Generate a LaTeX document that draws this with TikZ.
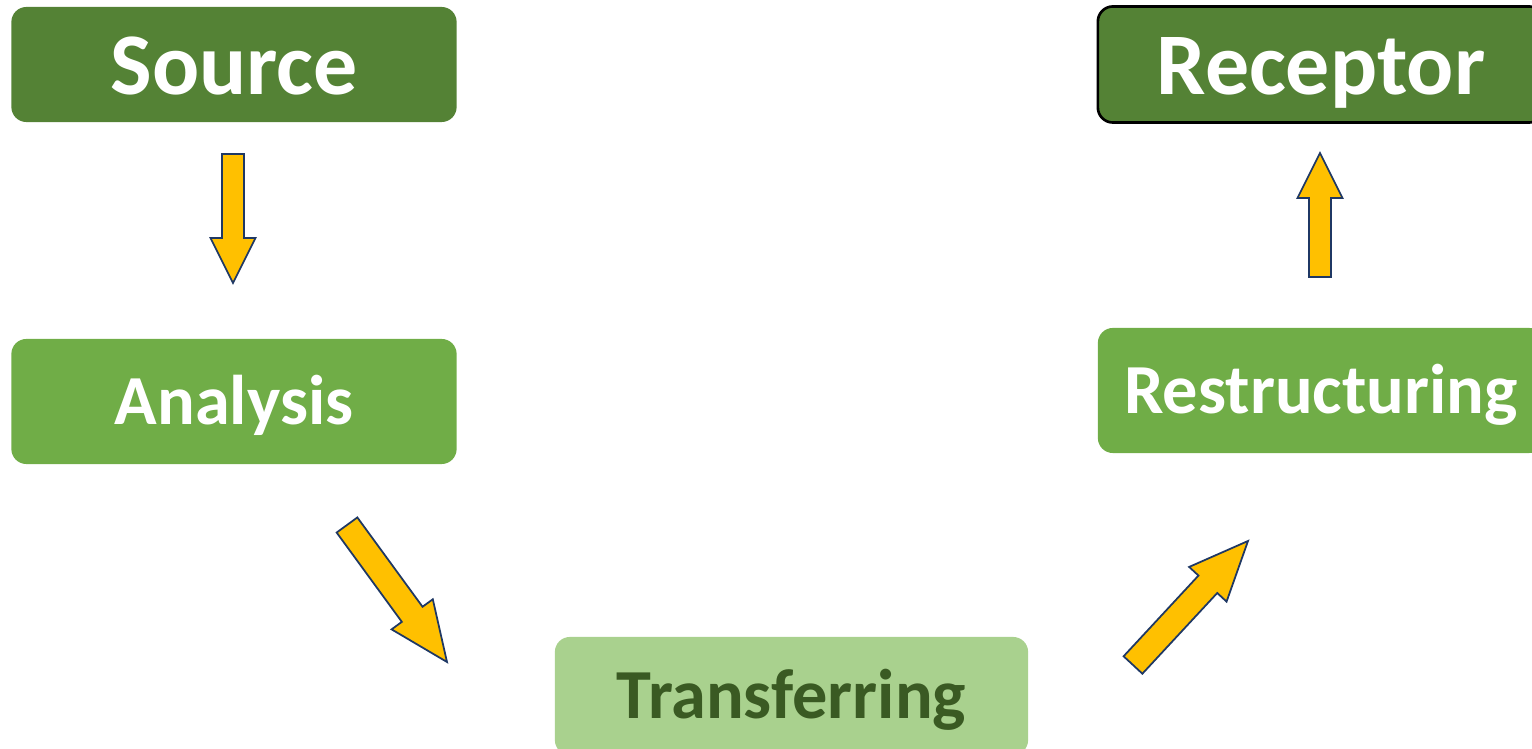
\documentclass[tikz,border=0pt]{standalone}
\usepackage{fontspec}
\setmainfont{Carlito}
\usetikzlibrary{calc}

\definecolor{darkgreen}{HTML}{548235}
\definecolor{midgreen}{HTML}{70AD47}
\definecolor{lightgreen}{HTML}{A9D18E}
\definecolor{textgreen}{HTML}{3A5A23}
\definecolor{arrowyellow}{HTML}{FFC000}
\definecolor{arrowline}{HTML}{1F3864}

\tikzset{
    box/.style={rounded corners=0.15cm, inner sep=0pt, text=white,
        font=\bfseries\fontsize{20}{24}\selectfont, text height=12.9pt, text depth=0pt},
    bigbox/.style={box, font=\bfseries\fontsize{25}{30}\selectfont, text height=17.2pt},
    blockarrow/.style={fill=arrowyellow, draw=arrowline, line width=0.5pt, line join=miter}
}

% tail, tip, half shaft, half head, head length
\newcommand{\blockarrow}[5]{%
    \coordinate (hb) at ($(#2)!#5!(#1)$);
    \filldraw[blockarrow] ($(#1)!#3!90:(#2)$) -- ($(hb)!#3!90:(#2)$) -- ($(hb)!#4!90:(#2)$)
        -- (#2) -- ($(hb)!#4!-90:(#2)$) -- ($(hb)!#3!-90:(#2)$) -- ($(#1)!#3!-90:(#2)$) -- cycle;
}

\begin{document}
\begin{tikzpicture}[x=0.01cm, y=-0.01cm]
    \useasboundingbox (0,0) rectangle (1532,749);
    \clip (0,0) rectangle (1532,749);

    % boxes
    \node[bigbox, fill=darkgreen, minimum width=4.45cm, minimum height=1.15cm] (source) at (234,64.5) {Source};
    \node[bigbox, fill=darkgreen, draw=black, line width=0.75pt, minimum width=4.46cm, minimum height=1.16cm] (receptor) at (1321,64.5) {Receptor};
    \node[box, fill=midgreen, minimum width=4.45cm, minimum height=1.25cm] (analysis) at (234,401.5) {Analysis};
    \node[box, fill=midgreen, minimum width=4.46cm, minimum height=1.25cm] (restructuring) at (1321,390.5) {Restructuring};
    \node[box, fill=lightgreen, text=textgreen, minimum width=4.73cm, minimum height=1.18cm] (transferring) at (791.5,696) {Transferring};

    % arrow ends
    \coordinate (src-tail) at (233,154);
    \coordinate (src-tip) at (233,283);
    \coordinate (ana-tail) at (347,525);
    \coordinate (ana-tip) at (447,662);
    \coordinate (tra-tail) at (1133,665);
    \coordinate (tra-tip) at (1248,541);
    \coordinate (res-tail) at (1320,277);
    \coordinate (res-tip) at (1320,153);

    \foreach \a in {src, res}{
        \blockarrow{\a-tail}{\a-tip}{0.11cm}{0.225cm}{0.45cm}
    }
    \foreach \a in {ana, tra}{
        \blockarrow{\a-tail}{\a-tip}{0.128cm}{0.255cm}{0.59cm}
    }
\end{tikzpicture}
\end{document}
